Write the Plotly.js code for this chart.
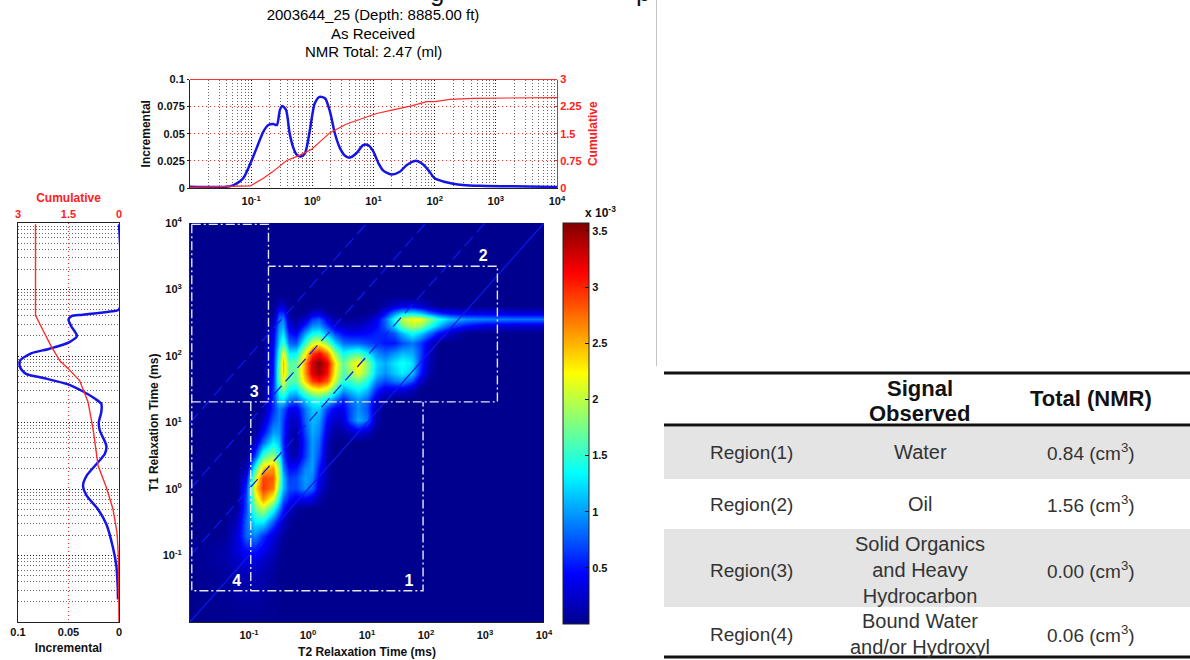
<!DOCTYPE html>
<html>
<head>
<meta charset="utf-8">
<script src="https://cdn.plot.ly/plotly-3.0.1.min.js"></script>
<style>html,body{margin:0;padding:0;background:#fff}#chart{width:1190px;height:660px}</style>
</head>
<body>
<div id="chart"></div>
<script>
// ---- Top panel: T2 distribution (x given as log10 of T2 in ms)
const topIncLogT2 = [-2,-1.35,-1.24,-1.13,-1.01,-0.91,-0.8,-0.72,-0.64,-0.58,-0.53,-0.49,-0.43,-0.37,-0.31,-0.26,-0.19,-0.12,-0.04,0.04,0.12,0.21,0.29,0.37,0.45,0.53,0.61,0.72,0.83,0.91,0.99,1.08,1.16,1.29,1.43,1.54,1.68,1.78,1.89,2,2.14,2.3,2.46,2.74,3.28,4];
const topIncValues = [0.0012,0.0015,0.004,0.009,0.023,0.037,0.052,0.058,0.059,0.058,0.072,0.0755,0.072,0.05,0.037,0.031,0.029,0.032,0.0535,0.078,0.084,0.0825,0.07,0.05,0.037,0.03,0.028,0.032,0.0395,0.0395,0.0345,0.023,0.016,0.0125,0.015,0.021,0.025,0.023,0.017,0.009,0.006,0.004,0.0028,0.002,0.0015,0.001];
const topCumLogT2 = [-2,-1.01,-0.8,-0.64,-0.42,-0.2,-0.01,0.12,0.29,0.56,0.83,1.05,1.32,1.62,1.87,2,2.25,2.63,4];
const topCumValues = [0.02,0.06,0.27,0.46,0.76,0.91,1.07,1.28,1.53,1.77,1.93,2.06,2.16,2.27,2.39,2.39,2.45,2.48,2.5];

// ---- Left panel: T1 distribution (y given as log10 of T1 in ms)
const leftIncLogT1 = [3.98,2.7,2.67,2.62,2.6,2.55,2.44,2.3,2.21,2.11,2.04,1.93,1.83,1.73,1.67,1.58,1.47,1.36,1.28,1.16,1,0.88,0.65,0.53,0.38,0.2,0.05,-0.1,-0.3,-0.53,-0.88,-1.16,-1.46,-1.66];
const leftIncValues = [0,0,0.009,0.036,0.047,0.05,0.047,0.0416,0.049,0.0686,0.087,0.098,0.098,0.092,0.075,0.052,0.036,0.024,0.0175,0.0175,0.02,0.019,0.0125,0.014,0.022,0.032,0.0356,0.032,0.021,0.0125,0.006,0.0026,0.0013,0.001];
const leftCumLogT1 = [3.98,2.61,2.44,2.14,1.93,1.81,1.63,1.31,0.9,0.35,0.03,-0.3,-0.65,-1,-2];
const leftCumValues = [2.48,2.48,2.31,2.01,1.76,1.51,1.17,0.92,0.77,0.62,0.38,0.18,0.06,0.02,0];

// ---- T2-T1 map, values in units of 1e-3; trailing zeros of a row are omitted
const mapLogT2 = [-2,-1.4,-1.2,-1.05,-0.9,-0.76,-0.6,-0.5,-0.42,-0.32,-0.2,-0.05,0.07,0.19,0.32,0.45,0.6,0.72,0.85,1,1.15,1.3,1.45,1.6,1.76,1.9,2.05,2.2,2.4,2.7,3,3.5,4];
const mapLogT1 = [-2,-1.3,-1.1,-0.9,-0.7,-0.5,-0.3,-0.15,0.02,0.17,0.32,0.5,0.7,0.85,1.04,1.2,1.35,1.5,1.62,1.75,1.9,2.05,2.2,2.35,2.45,2.55,2.65,2.75,2.9,4];
const mapRows = [
[0],
[0,.05,.12,.15,.15,.12,.05],
[0,.1,.2,.3,.3,.2,.1,.03],
[0,.1,.3,.5,.55,.4,.2,.08],
[0,.03,.3,.8,.9,.6,.3,.15,.05],
[0,0,.2,.8,1.3,1.3,.75,.4,.2,.05],
[0,0,.05,.7,1.7,2,1.4,.9,.5,.2,.05],
[0,0,0,.7,2,2.6,2.1,1.3,.8,.5,.35,.4,.3,.1],
[0,0,0,.6,2.3,2.95,2.7,1.7,1.1,.7,.7,.95,.8,.3,.05],
[0,0,0,.4,2,2.9,2.8,1.9,1.1,.65,.7,1,.9,.4,.1],
[0,0,0,.15,1.5,2.4,2.6,1.8,.9,.45,.5,.9,1,.5,.1],
[0,0,0,0,.7,1.6,1.9,1.4,.7,.2,.15,.65,1,.7,.1],
[0,0,0,0,.2,.8,1.3,1.1,.55,.15,.05,.6,1,.8,.15],
[0,0,0,0,.05,.45,1,.95,.6,.2,.1,.7,1.05,.9,.3,.05,.1,.2,.3,.2],
[0,0,0,0,0,.2,.75,.9,.65,.25,.2,.8,1.1,1,.45,.2,.3,.7,1.05,.85,.1],
[0,0,0,0,0,.05,.6,.9,.75,.4,.35,.85,1.15,1.15,.65,.35,.4,.7,.95,.75,.15],
[0,0,0,0,0,0,.6,1.2,1.3,.9,.8,1.2,1.4,1.5,1.3,.9,.55,.8,1,.8,.3,.05],
[0,0,0,0,0,0,.6,1.5,1.8,1.35,1.3,1.85,2.2,2.3,2.1,1.6,1.05,1.2,1.35,1.15,.6,.35,.35,.35,.2],
[0,0,0,0,0,0,.55,1.65,2.15,1.6,1.65,2.4,2.9,3.05,2.8,2,1.45,1.55,1.7,1.45,.9,.7,.85,.95,.7,.25],
[0,0,0,0,0,0,.5,1.7,2.4,1.7,1.7,2.6,3.25,3.45,3.1,2.2,1.6,1.85,2.15,1.75,1.15,.95,1.15,1.3,1.15,.55,.1],
[0,0,0,0,0,0,.5,1.6,2.5,1.6,1.7,2.6,3.3,3.55,3.2,2.3,1.65,2,2.3,1.85,1.2,1.05,1.25,1.4,1.25,.65,.15],
[0,0,0,0,0,0,.45,1.45,2.2,1.3,1.3,2.2,2.9,3.1,2.7,1.85,1.35,1.5,1.6,1.3,.95,.8,.95,1.1,1.05,.7,.2],
[0,0,0,0,0,0,.4,1.2,1.6,.8,.75,1.5,2.05,2.2,1.8,1.2,.85,.8,.8,.7,.6,.5,.5,.7,.85,.65,.3],
[0,0,0,0,0,0,.35,1.05,1.25,.5,.4,1,1.35,1.4,1.05,.65,.45,.4,.4,.45,.55,.6,.75,1.1,1.4,1.2,.85,.5,.2],
[0,0,0,0,0,0,.2,.95,1.05,.3,.15,.6,.95,1,.65,.3,.2,.2,.2,.3,.45,.75,1.2,1.7,1.95,1.85,1.45,1.1,.7,.45,.3,.25,.25],
[0,0,0,0,0,0,.1,.85,.9,.15,.05,.25,.65,.75,.35,.1,.05,.05,.05,.15,.35,.8,1.4,2,2.2,2.2,1.85,1.45,1.15,.95,.9,.85,.85],
[0,0,0,0,0,0,0,.6,.6,.05,0,.03,.25,.3,.08,0,0,0,0,0,.1,.45,.9,1.2,1.3,1.15,.85,.6,.45,.35,.35,.3,.3],
[0,0,0,0,0,0,0,.25,.25,0,0,0,0,.03,0,0,0,0,0,0,0,.1,.25,.35,.35,.25,.1],
[0],
[0]
];
const mapZ = mapRows.map(r => mapLogT2.map((_, i) => r[i] || 0));

// ---- Region boxes and T1/T2 ratio lines on the map (log10 ms)
const regionLogT2 = [-1.97,-1.97,1.95,1.95,null,-1.97,-0.67,-0.67,null,-1.97,3.21,3.21,-0.67,null,-0.97,-0.97];
const regionLogT1 = [3.98,-1.53,-1.53,1.31,null,3.98,3.98,1.31,null,1.31,1.31,3.35,3.35,null,1.31,-1.53];
const regionLabels = ['1','2','3','4'];
const regionLabelLogT2 = [1.71,2.97,-0.91,-1.21];
const regionLabelLogT1 = [-1.4,3.49,1.44,-1.4];
const ratioLogT2 = [[-2,4],[-2,3],[-2,2],[-2,1]];
const ratioLogT1 = [[-2,4],[-1,4],[0,4],[1,4]];
const ratioDash = ['solid','12px,6px','12px,6px','12px,6px'];

// ---- Text and tick labels
const titleLines = ['2003644_25 (Depth: 8885.00 ft)','As Received','NMR Total: 2.47 (ml)'];
const titleLineY = [15,33,51];
const decadeTicks = [0.1,1,10,100,1000,10000];
const mapTicksX = [-1,0,1,2,3,4];
const mapTicksY = [-1,0,1,2,3,4];
const decadeLabels = ['-1','0','1','2','3','4'].map(e => '10<sup>' + e + '</sup>');
const incTicksTop = [0,0.025,0.05,0.075,0.1];
const incLabelsTop = ['0','0.025','0.05','0.075','0.1'];
const cumTicksTop = [0,0.75,1.5,2.25,3];
const cumLabelsTop = ['0','0.75','1.5','2.25','3'];
const incTicksLeft = [0,0.05,0.1];
const incLabelsLeft = ['0','0.05','0.1'];
const cumTicksLeft = [0,1.5,3];
const cumLabelsLeft = ['0','1.5','3'];
const cbTicks = [0.5,1,1.5,2,2.5,3,3.5];
const cbLabels = ['0.5','1','1.5','2','2.5','3','3.5'];
const minorDigits = [2,3,4,5,6,7,8,9];
const minorDecades = [0.01,0.1,1,10,100,1000];
const minorVals = minorDecades.flatMap(d => minorDigits.map(k => k * d));

// ---- Table
const tableCol1 = ['Region(1)','Region(2)','Region(3)','Region(4)'];
const tableCol2 = ['Water','Oil','Solid Organics<br>and Heavy<br>Hydrocarbon','Bound Water<br>and/or Hydroxyl'];
const tableCol3 = ['0.84 (cm<sup>3</sup>)','1.56 (cm<sup>3</sup>)','0.00 (cm<sup>3</sup>)','0.06 (cm<sup>3</sup>)'];
const tableRowY = [452,504,570,634];
const tableHead = ['Signal','Observed','Total (NMR)'];
const tableHeadX = [920,920,1091];
const tableHeadY = [388,413,399];

const W = 1190, H = 660;
const px = v => v / W, py = v => 1 - v / H;
const pow = a => a.map(v => v === null ? null : Math.pow(10, v));
const FONT = 'Liberation Sans';
const BLUE = '#1414e6', RED = '#ff2a2a', BOLD = {family: FONT, size: 11, color: '#111', weight: 700};
const REDBOLD = {family: FONT, size: 11, color: '#ff2020', weight: 700};
const TITLEB = {family: FONT, size: 12, color: '#111', weight: 700};
const TITLER = {family: FONT, size: 12, color: '#ff2020', weight: 700};
const JET = [[0,'#00008f'],[0.125,'#0000ff'],[0.375,'#00ffff'],[0.625,'#ffff00'],[0.875,'#ff0000'],[1,'#800000']];

const traces = [
  {type:'scatter',mode:'lines',x:pow(topIncLogT2),y:topIncValues,xaxis:'x',yaxis:'y',line:{color:BLUE,width:2.5,shape:'spline',smoothing:0.7},hoverinfo:'skip',name:'Incremental'},
  {type:'scatter',mode:'lines',x:pow(topCumLogT2),y:topCumValues,xaxis:'x',yaxis:'y2',line:{color:RED,width:1.2},hoverinfo:'skip',name:'Cumulative'},
  {type:'scatter',mode:'lines',x:leftIncValues,y:pow(leftIncLogT1),xaxis:'x2',yaxis:'y3',line:{color:BLUE,width:2.5,shape:'spline',smoothing:0.7},hoverinfo:'skip',name:'Incremental'},
  {type:'scatter',mode:'lines',x:leftCumValues,y:pow(leftCumLogT1),xaxis:'x3',yaxis:'y3',line:{color:RED,width:1.4},hoverinfo:'skip',name:'Cumulative'},
  {type:'heatmap',x:mapLogT2,y:mapLogT1,z:mapZ,xaxis:'x4',yaxis:'y4',zmin:0,zmax:3.57,zsmooth:'best',colorscale:JET,hoverinfo:'skip',
   colorbar:{x:px(563),xanchor:'left',xref:'paper',thickness:26,thicknessmode:'pixels',len:401,lenmode:'pixels',y:py(624),yanchor:'bottom',yref:'paper',
     tickmode:'array',tickvals:cbTicks,ticktext:cbLabels,ticks:'inside',ticklen:4,tickcolor:'#111',tickfont:BOLD,outlinecolor:'#222',outlinewidth:1,xpad:0,ypad:0}}
];
ratioLogT2.forEach((xs,i) => traces.push({type:'scatter',mode:'lines',x:xs,y:ratioLogT1[i],xaxis:'x4',yaxis:'y4',line:{color:'#0a1af0',width:1.2,dash:ratioDash[i]},hoverinfo:'skip'}));
traces.push({type:'scatter',mode:'lines',x:regionLogT2,y:regionLogT1,xaxis:'x4',yaxis:'y4',line:{color:'#e6e6f2',width:1.4,dash:'9px,3px,2px,3px'},hoverinfo:'skip',connectgaps:false});
traces.push({type:'scatter',mode:'text',x:regionLabelLogT2,y:regionLabelLogT1,text:regionLabels,xaxis:'x4',yaxis:'y4',textposition:'middle center',textfont:{family:FONT,size:16,color:'#fff',weight:700},hoverinfo:'skip'});

const logAxisCommon = {type:'log',range:[-2,4],showline:true,linecolor:'#222',linewidth:1,zeroline:false};
const dotMinor = {showgrid:true,griddash:'1px,2px',gridcolor:'#666',gridwidth:1,tickmode:'array',tickvals:minorVals,ticks:''};

const layout = {
  width:W,height:H,margin:{l:0,r:0,t:0,b:0},paper_bgcolor:'#fff',plot_bgcolor:'#fff',showlegend:false,
  font:{family:FONT,color:'#111'},
  title:{text:titleLines[0],x:px(373),xref:'paper',xanchor:'center',y:py(titleLineY[0]),yref:'paper',yanchor:'middle',font:{family:FONT,size:15,color:'#000'},pad:{t:0,b:0,l:0,r:0}},
  // top panel
  xaxis:Object.assign({},logAxisCommon,{domain:[px(190),px(557)],anchor:'y',mirror:false,tickmode:'array',tickvals:decadeTicks,ticktext:decadeLabels,tickfont:BOLD,ticks:'',ticklabelstandoff:3,showgrid:true,griddash:'1px,2px',gridcolor:'#222',minor:dotMinor}),
  yaxis:{domain:[py(188),py(79.5)],anchor:'x',range:[0,0.1],showline:true,linecolor:'#222',zeroline:false,showgrid:false,tickmode:'array',tickvals:incTicksTop,ticktext:incLabelsTop,tickfont:BOLD,ticks:'outside',ticklen:2,tickcolor:'#222',title:{text:'Incremental',font:TITLEB,standoff:4}},
  yaxis2:{domain:[py(188),py(79.5)],anchor:'x',overlaying:'y',side:'right',range:[0,3],showline:true,linecolor:'#ff2020',zeroline:false,showgrid:true,griddash:'1px,3px',gridcolor:'#ff3030',tickmode:'array',tickvals:cumTicksTop,ticktext:cumLabelsTop,tickfont:REDBOLD,ticks:'inside',ticklen:3,tickcolor:'#ff2020',title:{text:'Cumulative',font:TITLER,standoff:7}},
  // left panel
  xaxis2:{domain:[px(18),px(119)],anchor:'y3',range:[0.1,0],showline:true,linecolor:'#222',zeroline:false,showgrid:false,tickmode:'array',tickvals:incTicksLeft,ticktext:incLabelsLeft,tickfont:BOLD,ticks:'',title:{text:'Incremental',font:TITLEB,standoff:6}},
  xaxis3:{domain:[px(18),px(119)],anchor:'y3',overlaying:'x2',side:'top',range:[3,0],showline:true,linecolor:'#222',zeroline:false,showgrid:true,griddash:'1px,3px',gridcolor:'#ff3030',tickmode:'array',tickvals:cumTicksLeft,ticktext:cumLabelsLeft,tickfont:REDBOLD,ticks:'',title:{text:'Cumulative',font:TITLER,standoff:2}},
  yaxis3:Object.assign({},logAxisCommon,{domain:[py(622),py(223)],anchor:'x2',mirror:true,showticklabels:false,ticks:'',showgrid:true,griddash:'1px,2px',gridcolor:'#222',tickmode:'array',tickvals:decadeTicks,minor:dotMinor}),
  // map
  xaxis4:{domain:[px(190),px(544)],anchor:'y4',range:[-2,4],showline:true,linecolor:'#222',zeroline:false,tickmode:'array',tickvals:mapTicksX,ticktext:decadeLabels,tickfont:BOLD,ticks:'',ticklabelstandoff:3,showgrid:false,title:{text:'T2 Relaxation Time (ms)',font:TITLEB,standoff:7}},
  yaxis4:{domain:[py(622),py(223)],anchor:'x4',range:[-2,4],showline:true,linecolor:'#222',zeroline:false,tickmode:'array',tickvals:mapTicksY,ticktext:decadeLabels,tickfont:BOLD,ticks:'',ticklabelstandoff:5,showgrid:false,title:{text:'T1 Relaxation Time (ms)',font:TITLEB,standoff:1}},
  shapes:[
    {type:'line',xref:'paper',yref:'paper',x0:px(190),x1:px(557),y0:py(79.5),y1:py(79.5),line:{color:'#ff3030',width:1}},
    {type:'line',xref:'paper',yref:'paper',x0:px(656.5),x1:px(656.5),y0:py(0),y1:py(366),line:{color:'#c4c4c4',width:1}},
    {type:'rect',xref:'paper',yref:'paper',x0:px(664),x1:1,y0:py(479),y1:py(427),fillcolor:'#e4e4e4',line:{width:0},layer:'below'},
    {type:'rect',xref:'paper',yref:'paper',x0:px(664),x1:1,y0:py(607),y1:py(529),fillcolor:'#e4e4e4',line:{width:0},layer:'below'},
    {type:'line',xref:'paper',yref:'paper',x0:px(664),x1:1,y0:py(373),y1:py(373),line:{color:'#111',width:3}},
    {type:'line',xref:'paper',yref:'paper',x0:px(664),x1:1,y0:py(425),y1:py(425),line:{color:'#111',width:3}},
    {type:'line',xref:'paper',yref:'paper',x0:px(664),x1:1,y0:py(657),y1:py(657),line:{color:'#111',width:3}}
  ],
  annotations:[]
};
const note = (text,x,y,font,extra) => layout.annotations.push(Object.assign({text,x:px(x),y:py(y),xref:'paper',yref:'paper',showarrow:false,xanchor:'center',yanchor:'middle',font},extra||{}));
const TITLEF = {family:FONT,size:15,color:'#000'};
note(titleLines[1],373,titleLineY[1],TITLEF);
note(titleLines[2],373,titleLineY[2],TITLEF);
note('x 10<sup>-3</sup>',600,212,{family:FONT,size:12,color:'#111',weight:700});
note('g',437,9,{family:FONT,size:26,color:'#111'},{yanchor:'bottom'});
note('p',643,9,{family:FONT,size:26,color:'#111'},{yanchor:'bottom'});
const TBL = {family:FONT,size:19,color:'#333'}, TBL2 = {family:FONT,size:20,color:'#333'}, TBLB = {family:FONT,size:22,color:'#111',weight:700};
tableHead.forEach((t,i) => note(t,tableHeadX[i],tableHeadY[i],TBLB));
tableRowY.forEach((y,i) => {
  note(tableCol1[i],751,y,TBL);
  note(tableCol2[i],920,y,TBL2);
  note(tableCol3[i],1091,y,TBL);
});
Plotly.newPlot('chart',traces,layout,{displayModeBar:false,responsive:false});
</script>
</body>
</html>
